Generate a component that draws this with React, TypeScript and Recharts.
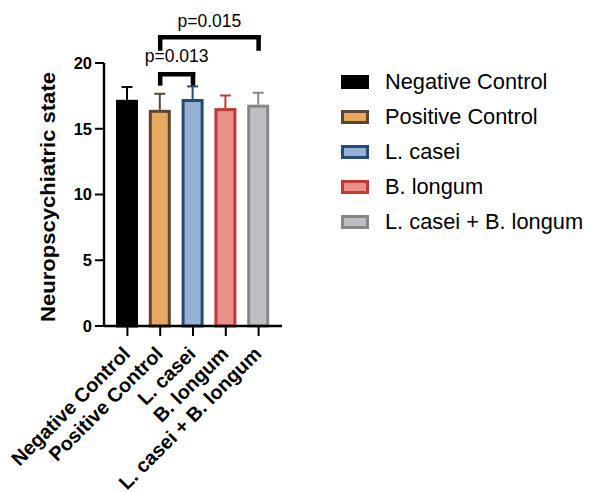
import React from 'react';
import { BarChart, Bar, XAxis, YAxis, ReferenceLine, Label } from 'recharts';

const categories = ['Negative Control', 'Positive Control', 'L. casei', 'B. longum', 'L. casei + B. longum'];
const means = [17.2, 16.44, 17.26, 16.57, 16.83];
const errors = [0.97, 1.22, 0.96, 0.96, 0.91];
const fills = ['#000000', '#E8A85F', '#97B1D4', '#E8908A', '#BDC0C3'];
const strokes = ['#000000', '#5B4632', '#244A7A', '#BE3A34', '#888780'];
const yTicks = [0, 5, 10, 15, 20];

const brackets = [
  { from: 'Positive Control', to: 'L. casei', top: 19.15, bottom: 18.45, label: 'p=0.013', offset: 12 },
  { from: 'Positive Control', to: 'L. casei + B. longum', top: 21.96, bottom: 21.1, label: 'p=0.015', offset: 10 },
];

const data = categories.map((name, i) => ({ name, value: means[i], err: errors[i], idx: i }));

const FONT = 'Liberation Sans, Arial, sans-serif';

const BarShape = (props: any) => {
  const { x, y, width, height, payload } = props;
  const i = payload.idx;
  const ppu = height / payload.value;
  const errTop = y - payload.err * ppu;
  const cx = x + width / 2;
  const sw = 3;
  return (
    <g>
      <rect x={x + sw / 2} y={y + sw / 2} width={width - sw} height={height - sw / 2} fill={fills[i]} stroke={strokes[i]} strokeWidth={sw} />
      <line x1={cx} x2={cx} y1={y} y2={errTop} stroke={strokes[i]} strokeWidth={2} />
      <line x1={cx - 5.5} x2={cx + 5.5} y1={errTop} y2={errTop} stroke={strokes[i]} strokeWidth={2} />
    </g>
  );
};

const XTick = (props: any) => {
  const { x, payload } = props;
  const ax = x + 4;
  const ay = 355;
  return (
    <text x={ax} y={ay} transform={`rotate(-45, ${ax}, ${ay})`} textAnchor="end" fontFamily={FONT} fontWeight="bold" fontSize={19.8} fill="#000">
      {payload.value}
    </text>
  );
};

const YLabel = () => (
  <text x={55} y={197} transform="rotate(-90, 55, 197)" textAnchor="middle" fontFamily={FONT} fontWeight="bold" fontSize={20} fill="#000" textLength={250} lengthAdjust="spacingAndGlyphs">
    Neuropscychiatric state
  </text>
);

export default function App() {
  return (
    <div style={{ position: 'absolute', left: 0, top: 0, width: 589, height: 492, background: '#fff' }}>
      <BarChart width={589} height={492} data={data} margin={{ top: 63, right: 307, bottom: 136, left: 30 }} barSize={22}>
        <XAxis
          dataKey="name"
          interval={0}
          height={30}
          padding={{ left: 7, right: 7 }}
          axisLine={{ stroke: '#000', strokeWidth: 2.4 }}
          tickLine={{ stroke: '#000', strokeWidth: 2 }}
          tickSize={10}
          tick={<XTick />}
        />
        <YAxis
          width={74}
          domain={[0, 20]}
          ticks={yTicks}
          axisLine={{ stroke: '#000', strokeWidth: 2.4 }}
          tickLine={{ stroke: '#000', strokeWidth: 2 }}
          tickSize={9}
          tickMargin={3}
          tick={{ fontFamily: FONT, fontWeight: 'bold', fontSize: 16.5, fill: '#000' }}
        >
          <Label content={<YLabel />} />
        </YAxis>
        <Bar dataKey="value" isAnimationActive={false} shape={<BarShape />} />
        {brackets.map((b, k) => (
          <ReferenceLine
            key={`h${k}`}
            segment={[{ x: b.from, y: b.top }, { x: b.to, y: b.top }]}
            ifOverflow="visible"
            stroke="#000"
            strokeWidth={4.5}
            strokeLinecap="square"
            label={{ value: b.label, position: 'top', offset: b.offset, fontFamily: FONT, fontSize: 17.5, fill: '#000' }}
          />
        ))}
        {brackets.map((b, k) => (
          <ReferenceLine
            key={`l${k}`}
            segment={[{ x: b.from, y: b.top }, { x: b.from, y: b.bottom }]}
            ifOverflow="visible"
            stroke="#000"
            strokeWidth={4.5}
            strokeLinecap="square"
          />
        ))}
        {brackets.map((b, k) => (
          <ReferenceLine
            key={`r${k}`}
            segment={[{ x: b.to, y: b.top }, { x: b.to, y: b.bottom }]}
            ifOverflow="visible"
            stroke="#000"
            strokeWidth={4.5}
            strokeLinecap="square"
          />
        ))}
      </BarChart>
      <div style={{ position: 'absolute', left: 341, top: 64, fontFamily: FONT, fontSize: 21.8, color: '#000' }}>
        {categories.map((c, i) => (
          <div key={c} style={{ display: 'flex', alignItems: 'center', height: 35.2 }}>
            <div style={{ width: 28, height: 14, boxSizing: 'border-box', background: fills[i], border: `3px solid ${strokes[i]}` }} />
            <span style={{ marginLeft: 16, whiteSpace: 'nowrap' }}>{c}</span>
          </div>
        ))}
      </div>
    </div>
  );
}
